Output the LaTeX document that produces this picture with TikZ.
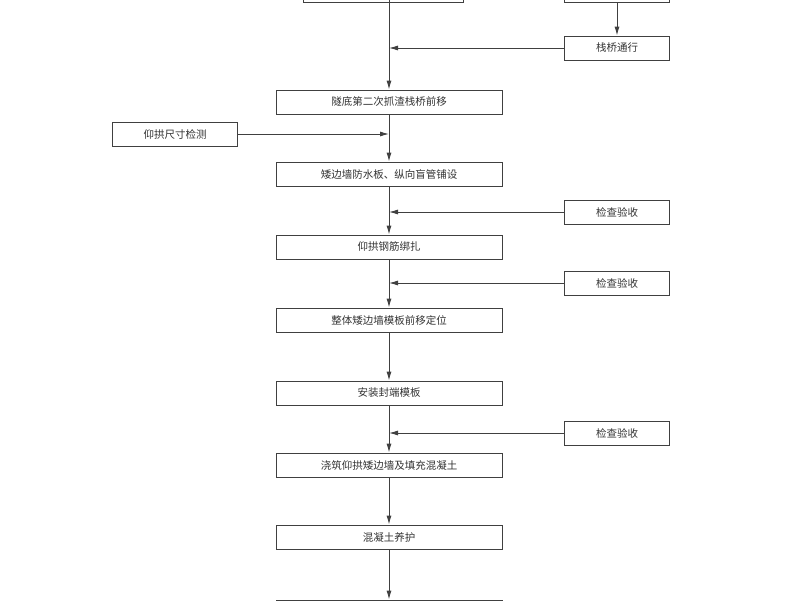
\documentclass[tikz,border=0pt]{standalone}
\usepackage{fontspec}
\newfontfamily\cjk{Noto Sans CJK SC}
\usetikzlibrary{arrows.meta}
\begin{document}
\begin{tikzpicture}[x=1pt,y=-1pt,
  box/.style={draw=black!75,line width=0.9pt,minimum height=24pt,inner sep=0pt,font=\cjk\fontsize{10.5}{12}\selectfont,text=black!80},
  mb/.style={box,minimum width=226pt},
  sb/.style={box,minimum width=105pt},
  ar/.style={draw=black!75,line width=0.9pt,-{Latex[length=9pt,width=5pt]}},
  ln/.style={draw=black!75,line width=0.9pt}]
\useasboundingbox (0,0) rectangle (800,600);
\node[box,minimum width=160pt] (t0) at (383,-10) {};
\node[sb] (t1) at (617,-10) {};
\node[sb] (s1) at (617,48) {栈桥通行};
\node[mb] (m1) at (389,102) {隧底第二次抓渣栈桥前移};
\node[box,minimum width=125pt] (l1) at (175,134) {仰拱尺寸检测};
\node[mb] (m2) at (389,174) {矮边墙防水板、纵向盲管铺设};
\node[sb] (s2) at (617,212) {检查验收};
\node[mb] (m3) at (389,247) {仰拱钢筋绑扎};
\node[sb] (s3) at (617,283) {检查验收};
\node[mb] (m4) at (389,320) {整体矮边墙模板前移定位};
\node[mb] (m5) at (389,393) {安装封端模板};
\node[sb] (s5) at (617,433) {检查验收};
\node[mb] (m6) at (389,465) {浇筑仰拱矮边墙及填充混凝土};
\node[mb] (m7) at (389,537) {混凝土养护};
\node[mb] (m8) at (389,612) {};
\coordinate (j1) at (389,48);
\coordinate (j2) at (389,134);
\coordinate (j3) at (389,212);
\coordinate (j4) at (389,283);
\coordinate (j5) at (389,433);
\path[ar] (389,0) -- (m1.north);
\path[ar] (t1.south) -- (s1.north);
\path[ar] (s1.west) -- (j1);
\path[ar] (m1.south) -- (m2.north);
\path[ar] (l1.east) -- (j2);
\path[ar] (m2.south) -- (m3.north);
\path[ar] (s2.west) -- (j3);
\path[ar] (m3.south) -- (m4.north);
\path[ar] (s3.west) -- (j4);
\path[ar] (m4.south) -- (m5.north);
\path[ar] (m5.south) -- (m6.north);
\path[ar] (s5.west) -- (j5);
\path[ar] (m6.south) -- (m7.north);
\path[ar] (m7.south) -- (m8.north);
\end{tikzpicture}
\end{document}
